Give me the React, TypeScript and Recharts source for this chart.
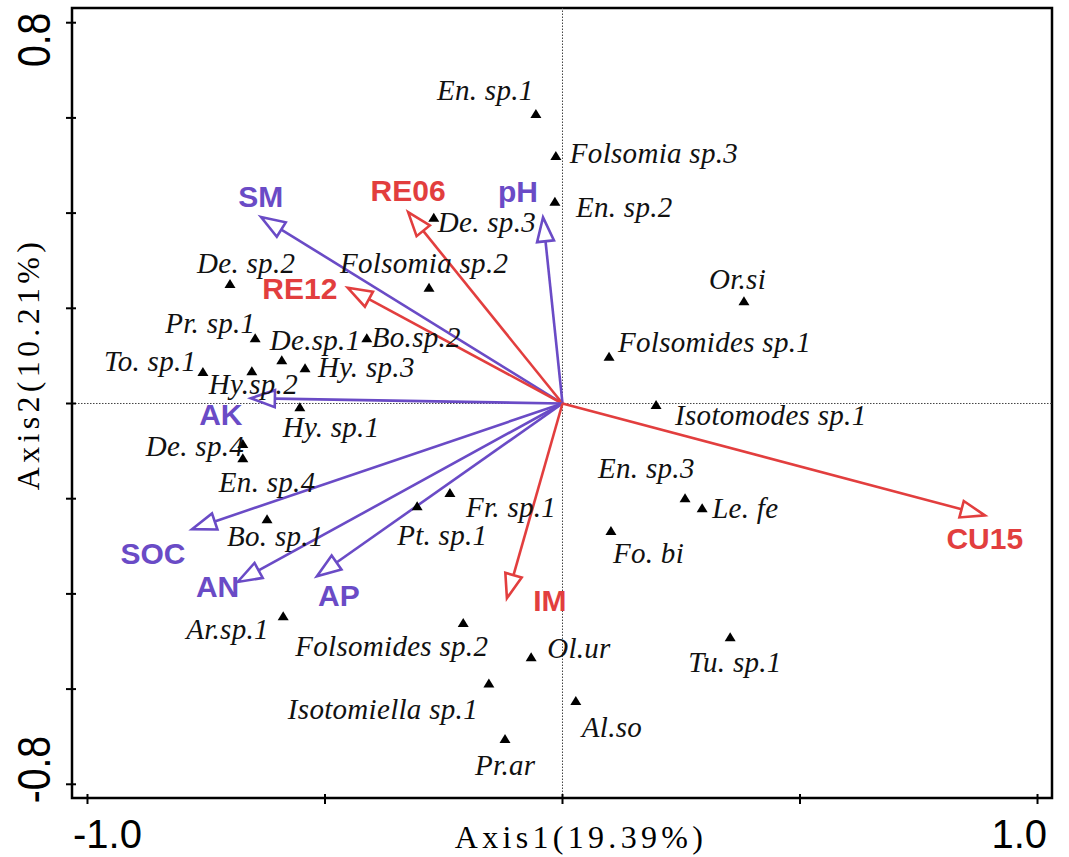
import {
  ReferenceArea,
  ReferenceLine,
  Scatter,
  ScatterChart,
  XAxis,
  YAxis,
} from "recharts";

// species scores (triangles)
const speciesNames = [
  "En. sp.1", "Folsomia sp.3", "En. sp.2", "De. sp.3", "Folsomia sp.2",
  "De. sp.2", "Pr. sp.1", "De.sp.1", "Bo.sp.2", "To. sp.1",
  "Hy.sp.2", "Hy. sp.3", "Hy. sp.1", "De. sp.4", "En. sp.4",
  "Bo. sp.1", "Pt. sp.1", "Fr. sp.1", "Ar.sp.1", "Folsomides sp.2",
  "Isotomiella sp.1", "Ol.ur", "Pr.ar", "Al.so", "Tu. sp.1",
  "Fo. bi", "Le. fe", "En. sp.3", "Isotomodes sp.1", "Folsomides sp.1",
  "Or.si",
];
const speciesAxis1 = [
  -0.056, -0.014, -0.016, -0.271, -0.281,
  -0.7, -0.647, -0.591, -0.412, -0.757,
  -0.654, -0.542, -0.553, -0.673, -0.673,
  -0.622, -0.306, -0.237, -0.588, -0.209,
  -0.155, -0.066, -0.121, 0.028, 0.353,
  0.102, 0.294, 0.258, 0.197, 0.098,
  0.382,
];
const speciesAxis2 = [
  0.608, 0.52, 0.424, 0.39, 0.243,
  0.251, 0.137, 0.091, 0.137, 0.066,
  0.068, 0.074, -0.008, -0.085, -0.115,
  -0.243, -0.216, -0.188, -0.447, -0.461,
  -0.588, -0.533, -0.705, -0.625, -0.491,
  -0.268, -0.22, -0.199, -0.003, 0.098,
  0.215,
];

// environmental vectors
const envNames = ["SM", "RE06", "pH", "RE12", "AK", "SOC", "AN", "AP", "IM", "CU15"];
const envAxis1 = [-0.635, -0.325, -0.041, -0.452, -0.656, -0.78, -0.684, -0.517, -0.117, 0.889];
const envAxis2 = [0.392, 0.402, 0.391, 0.243, 0.011, -0.264, -0.375, -0.363, -0.409, -0.235];
const envGroup = ["soil", "landuse", "soil", "landuse", "soil", "soil", "soil", "soil", "landuse", "landuse"];

const xTicks = [-1, -0.5, 0, 0.5, 1];
const yTicks = [-0.8, -0.6, -0.4, -0.2, 0, 0.2, 0.4, 0.6, 0.8];

const PURPLE = "#6A4BC6";
const RED = "#E23E3E";

const X_DOMAIN: [number, number] = [-1.0326, 1.0305];
const Y_DOMAIN: [number, number] = [-0.8288, 0.8309];

// label placement, px from the marker (text start, baseline)
const speciesLabelOffset: Record<string, [number, number]> = {
  "En. sp.1": [-99, -14],
  "Folsomia sp.3": [14, 7],
  "En. sp.2": [21, 15],
  "De. sp.3": [4, 14],
  "Folsomia sp.2": [-89, -15],
  "De. sp.2": [-33, -11],
  "Pr. sp.1": [-90, -5],
  "De.sp.1": [-12, -10],
  "Bo.sp.2": [5, 9],
  "To. sp.1": [-99, -1],
  "Hy.sp.2": [-43, 23],
  "Hy. sp.3": [13, 9],
  "Hy. sp.1": [-17, 30],
  "De. sp.4": [-97, 12],
  "En. sp.4": [-24, 34],
  "Bo. sp.1": [-40, 27],
  "Pt. sp.1": [-20, 39],
  "Fr. sp.1": [16, 24],
  "Ar.sp.1": [-97, 23],
  "Folsomides sp.2": [-168, 33],
  "Isotomiella sp.1": [-201, 36],
  "Ol.ur": [16, 1],
  "Pr.ar": [-30, 36],
  "Al.so": [6, 36],
  "Tu. sp.1": [-42, 35],
  "Fo. bi": [2, 32],
  "Le. fe": [10, 10],
  "En. sp.3": [-87, -20],
  "Isotomodes sp.1": [19, 20],
  "Folsomides sp.1": [9, -5],
  "Or.si": [-35, -12],
};

// text centre / baseline relative to arrow tip
const envLabelOffset: Record<string, [number, number]> = {
  SM: [0, -10],
  RE06: [0, -11],
  pH: [-25, -15],
  RE12: [-48, 11],
  AK: [-30, 27],
  SOC: [-39, 35],
  AN: [-20, 15],
  AP: [22, 30],
  IM: [43, 13],
  CU15: [0, 34],
};

const speciesData = speciesNames.map((name, i) => ({
  name,
  x: speciesAxis1[i],
  y: speciesAxis2[i],
}));

const envData = envNames.map((name, i) => ({
  name,
  x: envAxis1[i],
  y: envAxis2[i],
  group: envGroup[i],
}));

const colorOf = (group: string) => (group === "soil" ? PURPLE : RED);

const makeArrow = (color: string) => (props: any) => {
  const { x1, y1, x2, y2 } = props;
  const dx = x2 - x1;
  const dy = y2 - y1;
  const len = Math.hypot(dx, dy) || 1;
  const ux = dx / len;
  const uy = dy / len;
  const L = 24;
  const W = 8.5;
  const bx = x2 - ux * L;
  const by = y2 - uy * L;
  const pts = `${x2},${y2} ${bx - uy * W},${by + ux * W} ${bx + uy * W},${by - ux * W}`;
  return (
    <g>
      <line x1={x1} y1={y1} x2={bx} y2={by} stroke={color} strokeWidth={2.6} />
      <polygon points={pts} fill="#fff" stroke={color} strokeWidth={2.6} />
    </g>
  );
};

const SpeciesShape = (props: any) => {
  const { cx, cy, payload } = props;
  const off = speciesLabelOffset[payload.name] || [6, 0];
  return (
    <g>
      <polygon
        points={`${cx},${cy - 5} ${cx - 5.5},${cy + 4} ${cx + 5.5},${cy + 4}`}
        fill="#000"
      />
      <text
        x={cx + off[0]}
        y={cy + off[1]}
        fontFamily="'Liberation Serif', 'Times New Roman', serif"
        fontStyle="italic"
        fontSize={29}
        letterSpacing={0.3}
        fill="#111"
      >
        {payload.name}
      </text>
    </g>
  );
};

const EnvLabelShape = (props: any) => {
  const { cx, cy, payload } = props;
  const off = envLabelOffset[payload.name] || [0, 0];
  return (
    <text
      x={cx + off[0]}
      y={cy + off[1]}
      textAnchor="middle"
      fontFamily="'Liberation Sans', Arial, sans-serif"
      fontWeight="bold"
      fontSize={30}
      fill={colorOf(payload.group)}
    >
      {payload.name}
    </text>
  );
};

const XTick = (props: any) => {
  const { x, y, payload } = props;
  const v = payload.value;
  return (
    <g>
      <line x1={x} x2={x} y1={y - 4} y2={y + 6} stroke="#000" strokeWidth={2} />
      {v === -1 && (
        <text x={x - 14.5} y={y + 50} textAnchor="start" fontFamily="'Liberation Sans', Arial, sans-serif" fontSize={40} fill="#000">
          -1.0
        </text>
      )}
      {v === 1 && (
        <text x={x + 9.5} y={y + 50} textAnchor="end" fontFamily="'Liberation Sans', Arial, sans-serif" fontSize={40} fill="#000">
          1.0
        </text>
      )}
    </g>
  );
};

const YTick = (props: any) => {
  const { x, y, payload } = props;
  const v = payload.value;
  const label = v === 0.8 ? "0.8" : v === -0.8 ? "-0.8" : null;
  return (
    <g>
      <line x1={x - 6} x2={x + 4} y1={y} y2={y} stroke="#000" strokeWidth={2} />
      {label && (
        <text
          transform={`translate(${x - 22}, ${v > 0 ? y - 10 : y + 19}) rotate(-90) scale(0.85, 1)`}
          textAnchor={v > 0 ? "end" : "start"}
          fontFamily="'Liberation Sans', Arial, sans-serif"
          fontSize={46}
          fill="#000"
        >
          {label}
        </text>
      )}
    </g>
  );
};

export default function App() {
  return (
    <div style={{ position: "absolute", left: 0, top: 0, background: "#fff" }}>
      <ScatterChart
        width={1069}
        height={857}
        margin={{ top: 8, right: 17, bottom: 0, left: 0 }}
      >
        <XAxis
          type="number"
          dataKey="x"
          domain={X_DOMAIN}
          allowDataOverflow
          ticks={xTicks}
          interval={0}
          height={59}
          axisLine={false}
          tickLine={false}
          tickSize={0}
          tickMargin={0}
          tick={XTick}
          label={(p: any) => {
            const vb = p.viewBox || { x: 72, y: 798, width: 980 };
            return (
              <text
                x={vb.x + vb.width / 2 + 19}
                y={848}
                textAnchor="middle"
                fontFamily="'Liberation Serif', 'Times New Roman', serif"
                fontSize={32}
                letterSpacing={4.3}
                fill="#000"
              >
                Axis1(19.39%)
              </text>
            );
          }}
        />
        <YAxis
          type="number"
          dataKey="y"
          domain={Y_DOMAIN}
          allowDataOverflow
          ticks={yTicks}
          interval={0}
          width={72}
          axisLine={false}
          tickLine={false}
          tickSize={0}
          tickMargin={0}
          tick={YTick}
          label={() => (
            <text
              transform="translate(39, 364) rotate(-90)"
              textAnchor="middle"
              fontFamily="'Liberation Serif', 'Times New Roman', serif"
              fontSize={32}
              letterSpacing={4.3}
              fill="#000"
            >
              Axis2(10.21%)
            </text>
          )}
        />
        <ReferenceArea
          x1={X_DOMAIN[0]}
          x2={X_DOMAIN[1]}
          y1={Y_DOMAIN[0]}
          y2={Y_DOMAIN[1]}
          fill="none"
          stroke="#000"
          strokeWidth={2.5}
          ifOverflow="visible"
        />
        <ReferenceLine x={0} stroke="#444" strokeWidth={1} strokeDasharray="1.5 1.5" />
        <ReferenceLine y={0} stroke="#444" strokeWidth={1} strokeDasharray="1.5 1.5" />

        <Scatter data={speciesData} shape={SpeciesShape} isAnimationActive={false} />

        {envData.map((d) => (
          <ReferenceLine
            key={d.name}
            segment={[
              { x: 0, y: 0 },
              { x: d.x, y: d.y },
            ]}
            ifOverflow="visible"
            shape={makeArrow(colorOf(d.group))}
          />
        ))}

        <Scatter data={envData} shape={EnvLabelShape} isAnimationActive={false} />
      </ScatterChart>
    </div>
  );
}
